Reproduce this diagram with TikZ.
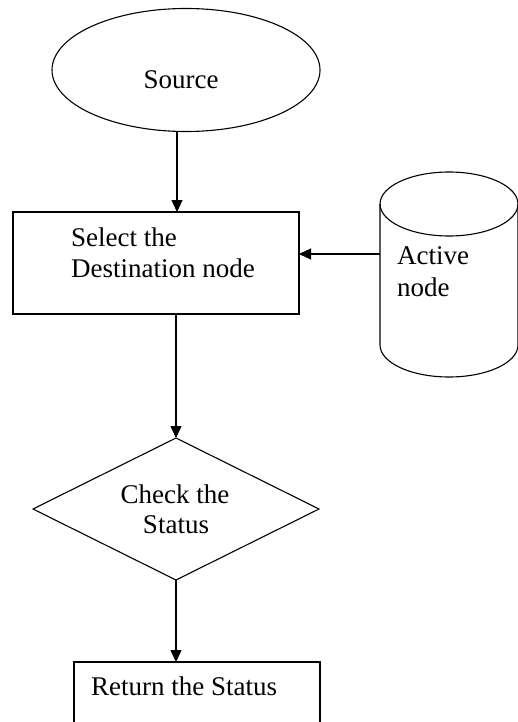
\documentclass[tikz,border=0pt]{standalone}
\usepackage{fontspec}
\setmainfont{Liberation Serif}
\usetikzlibrary{shapes.geometric,arrows.meta}
\begin{document}
\begin{tikzpicture}[x=1pt,y=-1pt,
  shp/.style={draw=black,line width=1.1pt,inner sep=0pt,outer sep=0pt},
  txt/.style={font=\fontsize{27}{31}\selectfont,inner sep=0pt},
  arr/.style={line width=1.1pt,-{Triangle[length=12pt,width=11pt]}}]
\useasboundingbox (0,0) rectangle (517,722);
\fill[white] (0,0) rectangle (517,722);
% source ellipse
\node[shp,ellipse,minimum width=268pt,minimum height=123pt] (src) at (186,70) {};
\node[txt,anchor=base] (srct) at (181,89) {Source};
\coordinate (axis) at (177,0);
% select box
\node[shp,rectangle,minimum width=286pt,minimum height=102pt] (sel) at (156,263) {};
\node[txt,anchor=base west] (selt1) at (71,246) {Select the};
\node[txt,anchor=base west] (selt2) at (71,277) {Destination node};
% cylinder (active node)
\draw[line width=1.1pt] (449,204) ellipse [x radius=69, y radius=32];
\draw[line width=1.1pt] (380,204) -- (380,345) arc[start angle=180,end angle=360,x radius=69,y radius=-32] -- (518,204);
\coordinate (act) at (380,254);
\node[txt,anchor=base west] (actt1) at (397,264) {Active};
\node[txt,anchor=base west] (actt2) at (397,296) {node};
% diamond
\node[shp,diamond,minimum width=286pt,minimum height=142pt] (chk) at (176,509) {};
\node[txt,anchor=base] (chkt1) at (175,503) {Check the};
\node[txt,anchor=base] (chkt2) at (176,533) {Status};
% return box
\node[shp,rectangle,minimum width=246pt,minimum height=100pt,anchor=north west] (ret) at (74,662) {};
\node[txt,anchor=base west] (rett) at (91,695) {Return the Status};
% connectors
\draw[arr] (axis |- src.south) -- (axis |- sel.north);
\draw[arr] (act) -- (act -| sel.east);
\draw[arr] (sel.south -| chk.north) -- (chk.north);
\draw[arr] (chk.south) -- (ret.north -| chk.south);
\end{tikzpicture}
\end{document}
